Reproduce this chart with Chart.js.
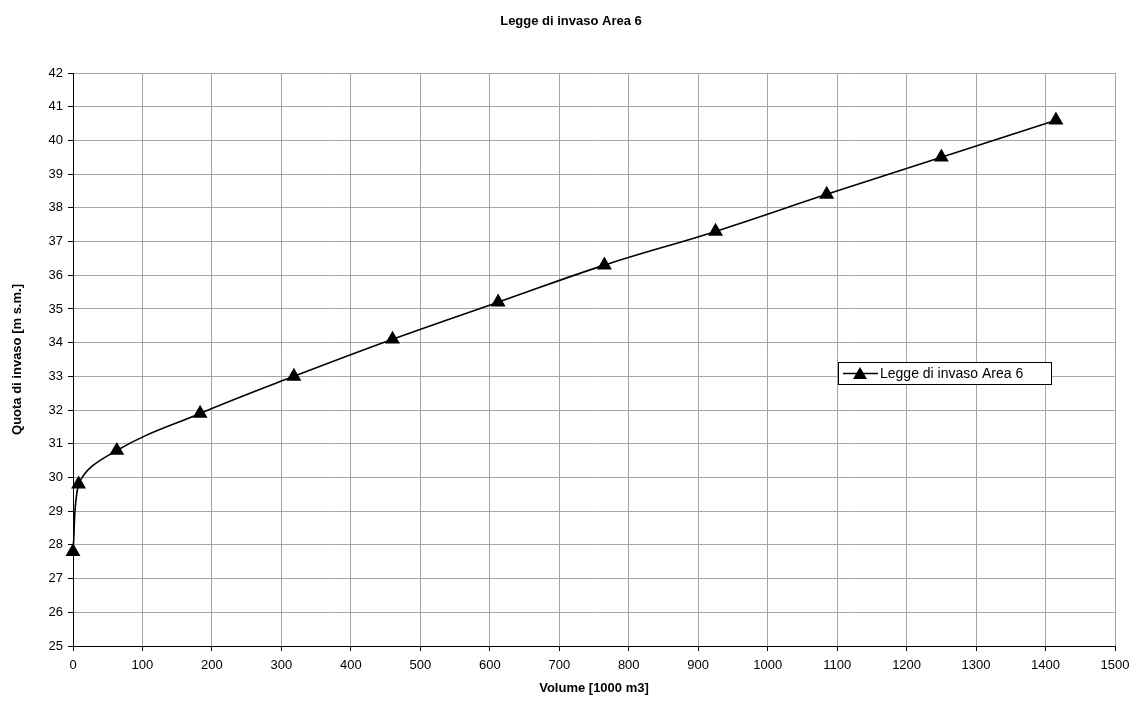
<!DOCTYPE html>
<html>
<head>
<meta charset="utf-8">
<title>Legge di invaso Area 6</title>
<script src="https://cdn.jsdelivr.net/npm/chart.js@4.4.0/dist/chart.umd.min.js"></script>
<style>
  html, body { margin: 0; padding: 0; background: #fff; }
  #wrap { width: 1142px; height: 725px; }
</style>
</head>
<body>
<div id="wrap"><canvas id="grafico" width="1142" height="725"></canvas></div>
<script>
// === DATI ===
const volumi = [0, 8, 63, 183, 318, 460, 612, 765, 925, 1085, 1250, 1415];   // [1000 m3]
const quote  = [27.8, 29.8, 30.8, 31.9, 33.0, 34.1, 35.2, 36.3, 37.3, 38.4, 39.5, 40.6]; // [m s.m.]
const titolo = "Legge di invaso Area 6";
const etichettaSerie = "Legge di invaso Area 6";
const titoloX = "Volume [1000 m3]";
const titoloY = "Quota di invaso [m s.m.]";

const punti = volumi.map((v, i) => ({ x: v, y: quote[i] }));
const font = "Arial, 'Liberation Sans', sans-serif";

// titolo centrato sulla pagina
const titoloPagina = {
  id: "titoloPagina",
  afterDraw(chart) {
    const ctx = chart.ctx;
    ctx.save();
    ctx.font = "bold 13px " + font;
    ctx.fillStyle = "#000";
    ctx.textAlign = "center";
    ctx.textBaseline = "middle";
    ctx.fillText(titolo, chart.width / 2, 21);
    ctx.restore();
  }
};

// legenda disegnata dentro l'area del grafico, come nell'originale
const legendaInterna = {
  id: "legendaInterna",
  afterDraw(chart) {
    const ctx = chart.ctx;
    const a = chart.chartArea;
    const x = a.left + 765, y = a.top + 289, w = 213, h = 22;
    ctx.save();
    ctx.fillStyle = "#fff";
    ctx.fillRect(x, y, w, h);
    ctx.strokeStyle = "#000";
    ctx.lineWidth = 1;
    ctx.strokeRect(x + 0.5, y + 0.5, w, h);
    // campione linea + triangolo
    ctx.beginPath();
    ctx.moveTo(x + 5, y + h / 2 + 0.5);
    ctx.lineTo(x + 40, y + h / 2 + 0.5);
    ctx.lineWidth = 1.5;
    ctx.stroke();
    const cx = x + 22, cy = y + h / 2 + 1;
    ctx.beginPath();
    ctx.moveTo(cx, cy - 7);
    ctx.lineTo(cx + 7, cy + 5);
    ctx.lineTo(cx - 7, cy + 5);
    ctx.closePath();
    ctx.fillStyle = "#000";
    ctx.fill();
    ctx.font = "14px " + font;
    ctx.textBaseline = "middle";
    ctx.fillText(etichettaSerie, x + 42, y + h / 2 + 1);
    ctx.restore();
  }
};

new Chart(document.getElementById("grafico"), {
  type: "line",
  data: {
    datasets: [{
      label: etichettaSerie,
      data: punti,
      borderColor: "#000",
      borderWidth: 1.6,
      backgroundColor: "#000",
      pointStyle: "triangle",
      pointRadius: 7,
      pointBackgroundColor: "#000",
      pointBorderColor: "#000",
      tension: 0.4,
      clip: false,
      fill: false
    }]
  },
  options: {
    responsive: false,
    animation: false,
    layout: { padding: { left: 0, right: 27, top: 73, bottom: 0 } },
    plugins: {
      legend: { display: false },
      tooltip: { enabled: false },
      title: { display: false }
    },
    scales: {
      x: {
        type: "linear",
        min: 0, max: 1500,
        ticks: { stepSize: 100, color: "#000", font: { family: font, size: 13 }, padding: 7, maxRotation: 0, callback: v => String(v) },
        grid: { color: "#a6a6a6", tickColor: "#000", tickLength: 5 },
        border: { color: "#000", width: 1 },
        title: { display: true, text: titoloX, color: "#000", font: { family: font, size: 13, weight: "bold" }, padding: { top: 4, bottom: 29 } },
        afterFit: s => { s.height = 79; }
      },
      y: {
        min: 25, max: 42,
        ticks: { stepSize: 1, color: "#000", font: { family: font, size: 13 }, padding: 5, callback: v => String(v) },
        grid: { color: "#a6a6a6", tickColor: "#000", tickLength: 5 },
        border: { color: "#000", width: 1 },
        title: { display: true, text: titoloY, color: "#000", font: { family: font, size: 13, weight: "bold" }, padding: { top: 10, bottom: 0 } },
        afterFit: s => { s.width = 73; }
      }
    }
  },
  plugins: [titoloPagina, legendaInterna]
});
</script>
</body>
</html>
